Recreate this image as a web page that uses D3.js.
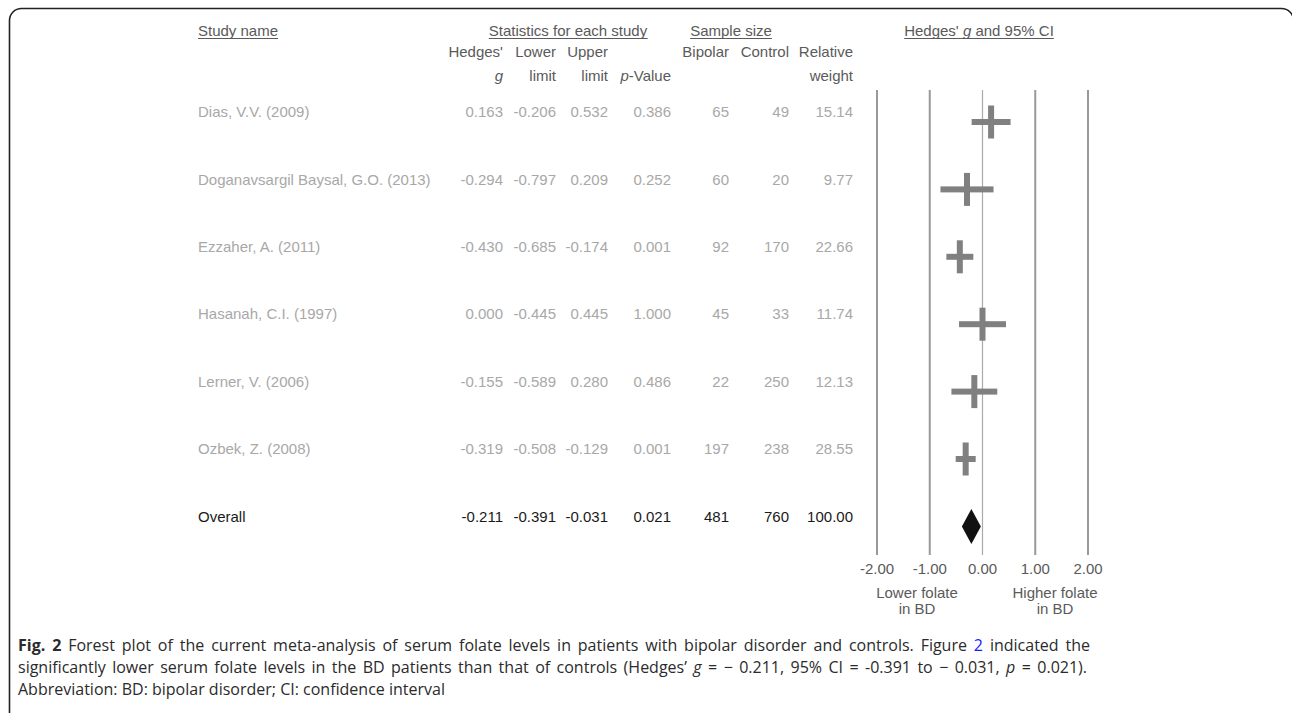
<!DOCTYPE html>
<html>
<head>
<meta charset="utf-8">
<script src="https://cdn.jsdelivr.net/npm/d3@7"></script>
<style>
  body { margin: 0; background: #fff; }
  svg { display: block; }
</style>
</head>
<body>
<div id="chart"></div>
<script>
// study data
const studies = ["Dias, V.V. (2009)", "Doganavsargil Baysal, G.O. (2013)", "Ezzaher, A. (2011)",
    "Hasanah, C.I. (1997)", "Lerner, V. (2006)", "Ozbek, Z. (2008)"];
const hedgesG = [0.163, -0.294, -0.430, 0.000, -0.155, -0.319];
const lowerLimit = [-0.206, -0.797, -0.685, -0.445, -0.589, -0.508];
const upperLimit = [0.532, 0.209, -0.174, 0.445, 0.280, -0.129];
const pValues = [0.386, 0.252, 0.001, 1.000, 0.486, 0.001];
const bipolarN = [65, 60, 92, 45, 22, 197];
const controlN = [49, 20, 170, 33, 250, 238];
const relWeight = [15.14, 9.77, 22.66, 11.74, 12.13, 28.55];

// pooled result
const overall = { name: "Overall", g: -0.211, lo: -0.391, hi: -0.031, p: 0.021, bip: 481, ctl: 760, w: 100.00 };

const axisTicks = [-2, -1, 0, 1, 2];

const width = 1292;
const height = 713;
const font = "'Liberation Sans', Arial, sans-serif";

const fmt = d3.formatLocale({ decimal: ".", thousands: ",", grouping: [3], currency: ["", ""], minus: "-" });
const f3 = fmt.format(".3f");
const f2 = fmt.format(".2f");

const svg = d3.select("#chart")
    .append("svg")
    .attr("width", width)
    .attr("height", height);

// frame around the figure
svg.append("rect")
    .attr("x", 9.5)
    .attr("y", 8.5)
    .attr("width", 1284)
    .attr("height", 740)
    .attr("rx", 12)
    .attr("fill", "none")
    .attr("stroke", "#222")
    .attr("stroke-width", 1.6);

// scales
const x = d3.scaleLinear().domain([-2, 2]).range([877, 1088]);
const rowY = d3.scaleLinear().domain([0, 6]).range([112, 516.4]);

// column right edges
const cols = { g: 503, lo: 556, hi: 608, p: 671, bip: 729, ctl: 789, w: 853 };

const headColor = "#5a5a5a";
const rowColor = "#a8a8a8";

function txt(g, xp, yp, s, anchor, color) {
    return g.append("text")
        .attr("x", xp)
        .attr("y", yp)
        .attr("dy", "0.35em")
        .attr("text-anchor", anchor)
        .attr("fill", color)
        .style("font-family", font)
        .style("font-size", "15px")
        .text(s);
}

const head = svg.append("g");

// group titles (underlined)
function underlined(xp, s, anchor, parts) {
    const t = head.append("text")
        .attr("x", xp)
        .attr("y", 31)
        .attr("dy", "0.35em")
        .attr("text-anchor", anchor)
        .attr("fill", headColor)
        .style("font-family", font)
        .style("font-size", "15px");
    if (parts) {
        parts.forEach(p => t.append("tspan").style("font-style", p.it ? "italic" : null).text(p.s));
    } else {
        t.text(s);
    }
    const bb = t.node().getBBox();
    head.append("line")
        .attr("x1", bb.x)
        .attr("x2", bb.x + bb.width)
        .attr("y1", 38.5)
        .attr("y2", 38.5)
        .attr("stroke", headColor)
        .attr("stroke-width", 1);
}
underlined(198, "Study name", "start");
underlined(568, "Statistics for each study", "middle");
underlined(731, "Sample size", "middle");
underlined(979, null, "middle", [{ s: "Hedges' " }, { s: "g", it: true }, { s: " and 95% CI" }]);

// column headers
txt(head, cols.g, 52, "Hedges'", "end", headColor);
txt(head, cols.g, 76, "g", "end", headColor).style("font-style", "italic");
txt(head, cols.lo, 52, "Lower", "end", headColor);
txt(head, cols.lo, 76, "limit", "end", headColor);
txt(head, cols.hi, 52, "Upper", "end", headColor);
txt(head, cols.hi, 76, "limit", "end", headColor);
const pv = txt(head, cols.p, 76, "", "end", headColor);
pv.append("tspan").style("font-style", "italic").text("p");
pv.append("tspan").text("-Value");
txt(head, cols.bip, 52, "Bipolar", "end", headColor);
txt(head, cols.ctl, 52, "Control", "end", headColor);
txt(head, cols.w, 52, "Relative", "end", headColor);
txt(head, cols.w, 76, "weight", "end", headColor);

// grid lines
svg.append("g")
    .selectAll("line")
    .data(axisTicks)
    .join("line")
    .attr("x1", d => x(d))
    .attr("x2", d => x(d))
    .attr("y1", 90)
    .attr("y2", 555)
    .attr("stroke", d => d === 0 ? "#aaa" : "#999")
    .attr("stroke-width", d => d === 0 ? 1.2 : 2);

// tick labels
svg.append("g")
    .selectAll("text")
    .data(axisTicks)
    .join("text")
    .attr("x", d => x(d))
    .attr("y", 569)
    .attr("dy", "0.35em")
    .attr("text-anchor", "middle")
    .attr("fill", headColor)
    .style("font-family", font)
    .style("font-size", "15px")
    .text(d => f2(d));

txt(svg, 917, 593, "Lower folate", "middle", headColor);
txt(svg, 917, 609, "in BD", "middle", headColor);
txt(svg, 1055, 593, "Higher folate", "middle", headColor);
txt(svg, 1055, 609, "in BD", "middle", headColor);

// study rows
const rows = studies.map((s, i) => ({
    name: s, g: hedgesG[i], lo: lowerLimit[i], hi: upperLimit[i],
    p: pValues[i], bip: bipolarN[i], ctl: controlN[i], w: relWeight[i]
}));

rows.concat([overall]).forEach((d, i) => {
    const yy = rowY(i);
    const c = d === overall ? "#1a1a1a" : rowColor;
    const g = svg.append("g");
    txt(g, 198, yy, d.name, "start", c);
    txt(g, cols.g, yy, f3(d.g), "end", c);
    txt(g, cols.lo, yy, f3(d.lo), "end", c);
    txt(g, cols.hi, yy, f3(d.hi), "end", c);
    txt(g, cols.p, yy, f3(d.p), "end", c);
    txt(g, cols.bip, yy, d.bip, "end", c);
    txt(g, cols.ctl, yy, d.ctl, "end", c);
    txt(g, cols.w, yy, f2(d.w), "end", c);
});

// crosses for each study
const markColor = "#808080";
const marks = svg.append("g");
marks.selectAll("rect.ci")
    .data(rows)
    .join("rect")
    .attr("class", "ci")
    .attr("x", d => x(d.lo))
    .attr("width", d => x(d.hi) - x(d.lo))
    .attr("y", (d, i) => rowY(i) + 10 - 3)
    .attr("height", 6)
    .attr("fill", markColor);
marks.selectAll("rect.pt")
    .data(rows)
    .join("rect")
    .attr("class", "pt")
    .attr("x", d => x(d.g) - 3)
    .attr("width", 6)
    .attr("y", (d, i) => rowY(i) + 10 - 16.5)
    .attr("height", 33)
    .attr("fill", markColor);

// overall diamond
const dy = rowY(6) + 10;
svg.append("path")
    .attr("d", d3.line()([
        [x(overall.lo), dy],
        [x(overall.g), dy - 17.5],
        [x(overall.hi), dy],
        [x(overall.g), dy + 17.5]
    ]) + "Z")
    .attr("fill", "#111");

// caption
const capFont = "'Open Sans', 'Noto Sans', sans-serif";
const cap = svg.append("g")
    .style("font-family", capFont)
    .style("font-size", "16px")
    .attr("fill", "#2b2b2b");

// stretch word gaps so a line fills the given width (justified text)
function justify(t, target) {
    const node = t.node();
    const natural = node.getComputedTextLength();
    const gaps = (node.textContent.match(/ /g) || []).length;
    if (gaps > 0 && natural < target) {
        t.style("word-spacing", ((target - natural) / gaps) + "px");
    }
}

const l1 = cap.append("text").attr("x", 18).attr("y", 651);
l1.append("tspan").style("font-weight", "bold").text("Fig. 2");
l1.append("tspan").text(" Forest plot of the current meta-analysis of serum folate levels in patients with bipolar disorder and controls. Figure ");
l1.append("tspan").attr("fill", "#1a1aff").text("2");
l1.append("tspan").text(" indicated the");
justify(l1, 1072);

const l2 = cap.append("text").attr("x", 18).attr("y", 673);
l2.append("tspan").text("significantly lower serum folate levels in the BD patients than that of controls (Hedges\u2019 ");
l2.append("tspan").style("font-style", "italic").text("g");
l2.append("tspan").text(" = \u2212 0.211, 95% CI = -0.391 to \u2212 0.031, ");
l2.append("tspan").style("font-style", "italic").text("p");
l2.append("tspan").text(" = 0.021).");
justify(l2, 1069);

cap.append("text").attr("x", 18).attr("y", 695)
    .text("Abbreviation: BD: bipolar disorder; CI: confidence interval");
</script>
</body>
</html>
